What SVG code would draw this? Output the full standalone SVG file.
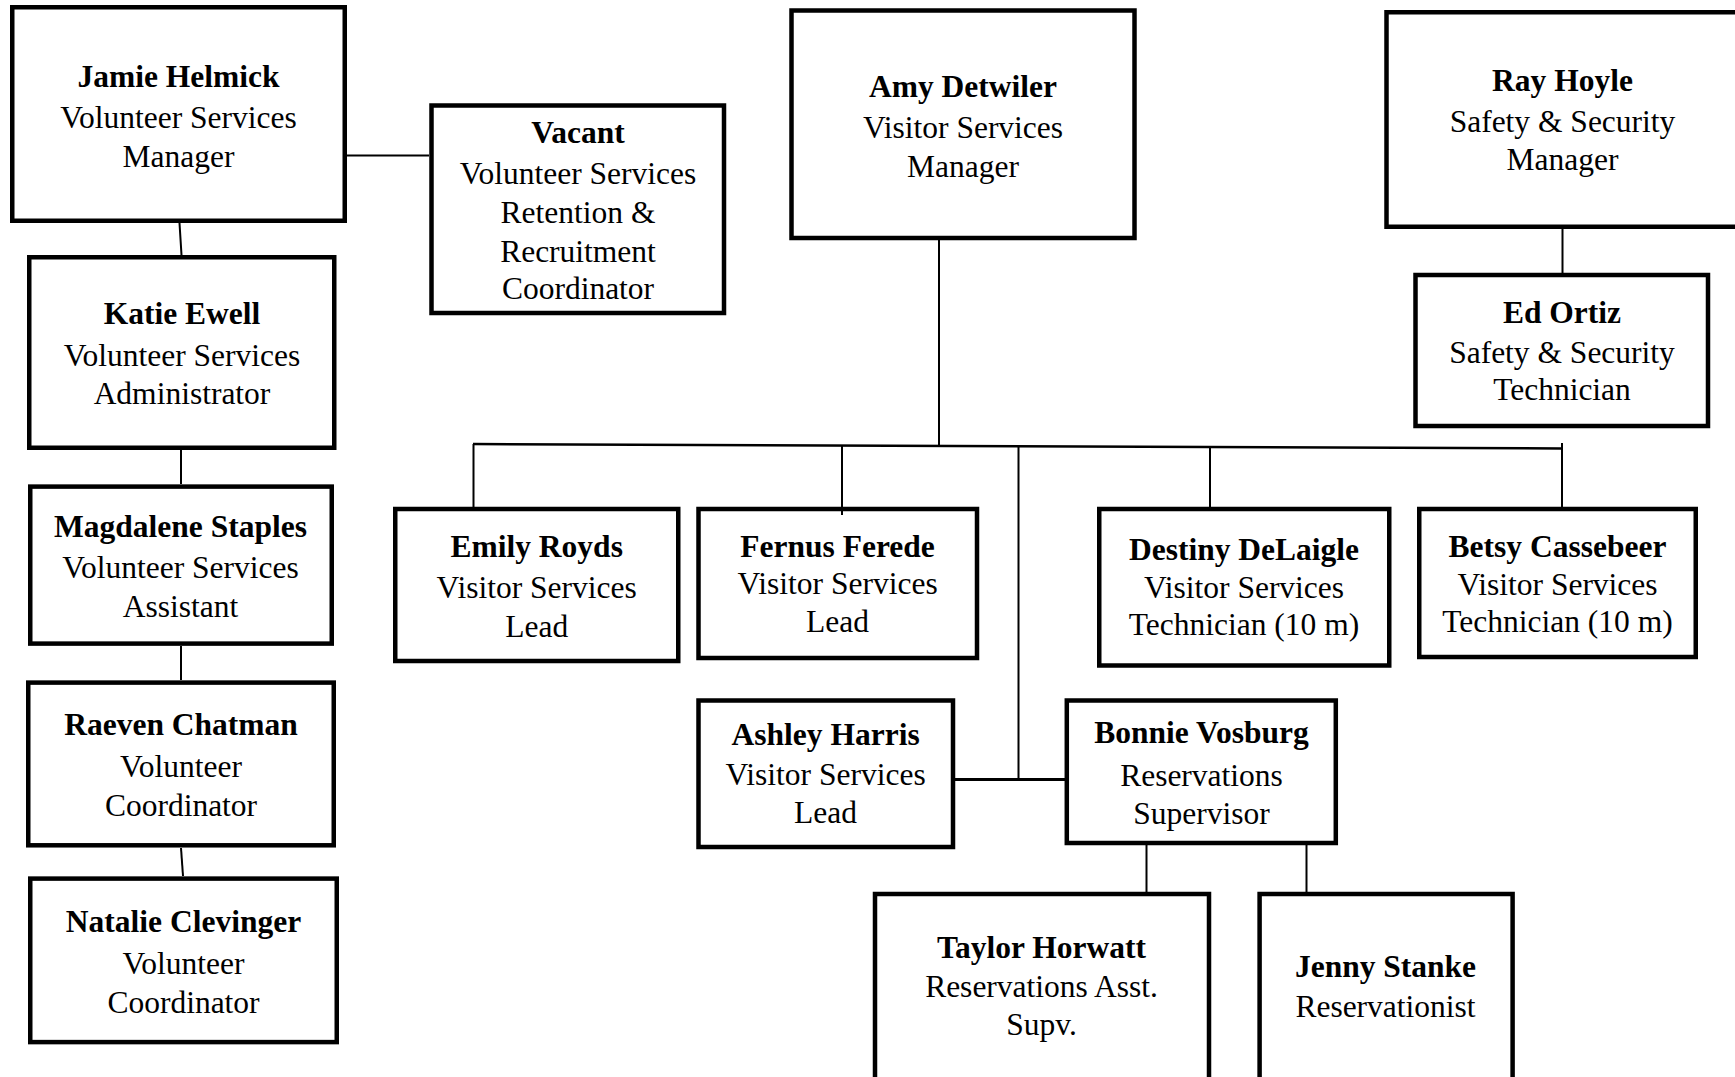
<svg xmlns="http://www.w3.org/2000/svg" width="1735" height="1077" viewBox="0 0 1735 1077">
<style>
.box{fill:#fff;stroke:#000;stroke-width:4.5}
text{font-family:"Liberation Serif","Times New Roman",serif;font-size:31.5px;fill:#000;text-anchor:middle}
.n{font-weight:bold}
.c{stroke:#000;stroke-width:2;fill:none}
</style>
<rect x="0" y="0" width="1735" height="1077" fill="#fff"/>
<g id="nodes">
<g id="jamie"><rect class="box" x="12.25" y="7.25" width="332.5" height="213.5"/>
<text x="178.5" y="87" class="n">Jamie Helmick</text><text x="178.5" y="128">Volunteer Services</text><text x="178.5" y="167">Manager</text></g>
<g id="vacant"><rect class="box" x="431.5" y="105.5" width="292.5" height="207.5"/>
<text x="578" y="143" class="n">Vacant</text><text x="578" y="184">Volunteer Services</text><text x="578" y="223">Retention &amp;</text><text x="578" y="262">Recruitment</text><text x="578" y="299">Coordinator</text></g>
<g id="katie"><rect class="box" x="29.25" y="257.25" width="305" height="190.5"/>
<text x="182" y="324" class="n">Katie Ewell</text><text x="182" y="366">Volunteer Services</text><text x="182" y="404">Administrator</text></g>
<g id="magdalene"><rect class="box" x="30.25" y="486.6" width="301.5" height="157"/>
<text x="180.5" y="537" class="n">Magdalene Staples</text><text x="180.5" y="578">Volunteer Services</text><text x="180.5" y="617">Assistant</text></g>
<g id="raeven"><rect class="box" x="28.25" y="682.6" width="305.5" height="162.7"/>
<text x="181" y="735" class="n">Raeven Chatman</text><text x="181" y="777">Volunteer</text><text x="181" y="816">Coordinator</text></g>
<g id="natalie"><rect class="box" x="30.25" y="878.6" width="306.5" height="163.5"/>
<text x="183.5" y="932" class="n">Natalie Clevinger</text><text x="183.5" y="974">Volunteer</text><text x="183.5" y="1013">Coordinator</text></g>
<g id="amy"><rect class="box" x="791.5" y="10.5" width="343" height="227.5"/>
<text x="963" y="97" class="n">Amy Detwiler</text><text x="963" y="138">Visitor Services</text><text x="963" y="177">Manager</text></g>
<g id="ray"><rect class="box" x="1386.5" y="12.25" width="354" height="214.5"/>
<text x="1562.5" y="91" class="n">Ray Hoyle</text><text x="1562.5" y="132">Safety &amp; Security</text><text x="1562.5" y="170">Manager</text></g>
<g id="ed"><rect class="box" x="1415.5" y="275" width="292.5" height="151"/>
<text x="1562" y="323" class="n">Ed Ortiz</text><text x="1562" y="363">Safety &amp; Security</text><text x="1562" y="400">Technician</text></g>
<g id="emily"><rect class="box" x="395.25" y="509" width="283" height="152"/>
<text x="536.7" y="557" class="n">Emily Royds</text><text x="536.7" y="598">Visitor Services</text><text x="536.7" y="637">Lead</text></g>
<g id="fernus"><rect class="box" x="698.5" y="509" width="278.5" height="149"/>
<text x="837.6" y="557" class="n">Fernus Ferede</text><text x="837.6" y="594">Visitor Services</text><text x="837.6" y="632">Lead</text></g>
<g id="destiny"><rect class="box" x="1099.25" y="509" width="290" height="156.5"/>
<text x="1244" y="560" class="n">Destiny DeLaigle</text><text x="1244" y="598">Visitor Services</text><text x="1244" y="635">Technician (10 m)</text></g>
<g id="betsy"><rect class="box" x="1419.25" y="509" width="276.5" height="148"/>
<text x="1557.5" y="557" class="n">Betsy Cassebeer</text><text x="1557.5" y="595">Visitor Services</text><text x="1557.5" y="632">Technician (10 m)</text></g>
<g id="ashley"><rect class="box" x="698.5" y="700.5" width="254.5" height="146.5"/>
<text x="825.6" y="745" class="n">Ashley Harris</text><text x="825.6" y="785">Visitor Services</text><text x="825.6" y="823">Lead</text></g>
<g id="bonnie"><rect class="box" x="1066.8" y="700.5" width="269" height="142.5"/>
<text x="1201.5" y="743" class="n">Bonnie Vosburg</text><text x="1201.5" y="786">Reservations</text><text x="1201.5" y="824">Supervisor</text></g>
<g id="taylor"><rect class="box" x="875" y="894" width="334" height="200"/>
<text x="1041.5" y="958" class="n">Taylor Horwatt</text><text x="1041.5" y="997">Reservations Asst.</text><text x="1041.5" y="1035">Supv.</text></g>
<g id="jenny"><rect class="box" x="1259.6" y="894" width="253" height="200"/>
<text x="1385.5" y="977" class="n">Jenny Stanke</text><text x="1385.5" y="1017">Reservationist</text></g>
</g>
<g id="connectors">
<line class="c" x1="179.5" y1="223" x2="181.5" y2="255"/>
<line class="c" x1="347" y1="155.5" x2="429" y2="155.5"/>
<line class="c" x1="181" y1="450" x2="181" y2="484"/>
<line class="c" x1="181" y1="646" x2="181" y2="680"/>
<line class="c" x1="181" y1="848" x2="183" y2="876"/>
<line class="c" x1="939" y1="240" x2="939" y2="445"/>
<line class="c" x1="473" y1="444" x2="1562" y2="448.5" style="stroke-width:2.5"/>
<line class="c" x1="473.5" y1="444" x2="473.5" y2="507"/>
<line class="c" x1="842" y1="445" x2="842" y2="515"/>
<line class="c" x1="1018.5" y1="446" x2="1018.5" y2="780"/>
<line class="c" x1="1210" y1="446.5" x2="1210" y2="507"/>
<line class="c" x1="1562" y1="443" x2="1562" y2="507"/>
<line class="c" x1="955" y1="779.5" x2="1065" y2="779.5" style="stroke-width:3"/>
<line class="c" x1="1146.5" y1="845" x2="1146.5" y2="892"/>
<line class="c" x1="1306.5" y1="845" x2="1306.5" y2="892"/>
<line class="c" x1="1562.5" y1="229" x2="1562.5" y2="273"/>
</g>
</svg>
